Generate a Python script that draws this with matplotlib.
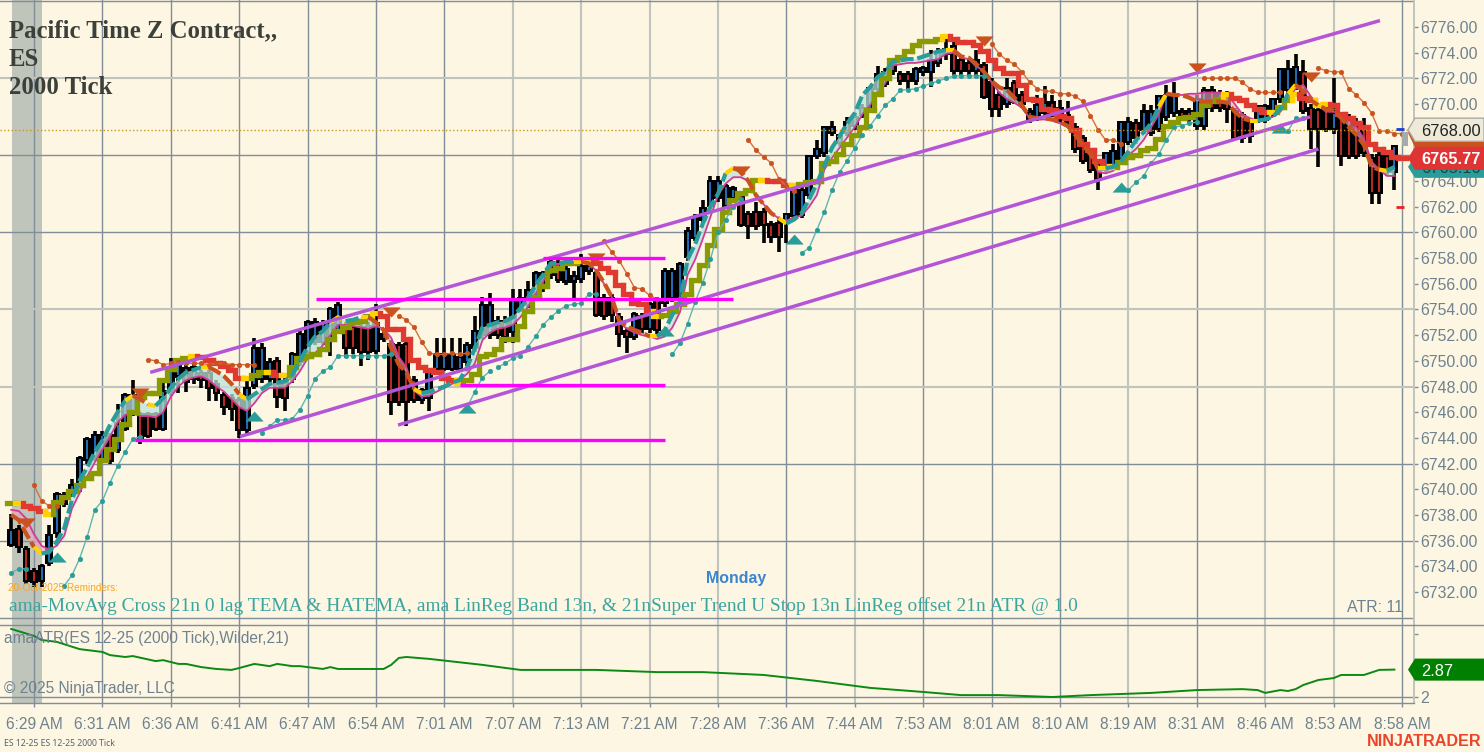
import numpy as np
import matplotlib as mpl
mpl.use('Agg')
import matplotlib.pyplot as plt
from matplotlib.patches import Polygon
from matplotlib.transforms import blended_transform_factory

# one row per candle: open, high, low, close
candles = [
[6735.6,6738.1,6735.5,6736.9],[6737.0,6737.2,6735.0,6735.4],[6735.4,6735.6,6732.6,6732.8],[6733.7,6733.9,6732.4,6732.7],
[6732.8,6734.2,6732.4,6734.1],[6734.2,6737.2,6734.0,6736.5],[6736.5,6739.8,6736.2,6739.7],[6739.6,6739.8,6738.6,6738.8],
[6739.6,6740.8,6739.4,6740.4],[6740.3,6742.6,6739.8,6742.5],[6742.2,6744.1,6742.0,6744.0],[6742.4,6744.5,6742.2,6744.3],
[6742.3,6744.5,6742.2,6744.3],[6744.3,6744.4,6742.0,6742.1],[6743.0,6746.6,6742.8,6745.2],[6744.6,6747.5,6744.5,6747.4],[6745.9,6748.5,6745.7,6747.4],
[6745.9,6746.0,6743.5,6743.9],[6745.9,6746.0,6744.0,6744.1],[6745.9,6746.0,6744.5,6744.6],[6744.6,6748.5,6744.5,6747.7],[6747.5,6750.2,6747.3,6749.5],
[6748.7,6750.0,6747.5,6749.8],[6749.5,6749.7,6747.6,6748.3],[6748.5,6749.8,6748.2,6749.6],[6749.1,6749.3,6747.9,6748.4],
[6749.1,6749.3,6746.9,6747.8],[6748.3,6748.5,6746.9,6747.4],[6747.4,6747.6,6745.8,6746.3],[6747.2,6747.4,6745.3,6746.2],[6747.0,6747.2,6744.0,6744.5],
[6744.5,6748.8,6744.2,6748.0],[6748.0,6751.8,6747.8,6751.1],[6748.5,6751.4,6748.3,6751.1],[6748.5,6750.2,6748.3,6750.0],
[6750.1,6750.3,6746.3,6747.1],[6748.5,6748.7,6746.1,6747.0],[6748.5,6750.7,6748.3,6750.6],[6749.8,6752.3,6749.6,6752.2],[6750.6,6753.2,6750.4,6753.1],
[6751.4,6753.3,6751.2,6753.1],[6751.4,6753.2,6751.2,6753.0],[6751.7,6754.2,6750.4,6754.1],[6752.3,6754.6,6752.1,6754.4],
[6752.9,6753.0,6750.2,6750.9],[6752.7,6752.9,6750.5,6750.9],[6752.7,6752.9,6749.6,6750.6],[6752.8,6753.0,6750.1,6750.6],[6750.7,6754.4,6750.5,6753.0],
[6752.2,6752.3,6751.5,6751.6],[6751.4,6751.6,6745.8,6746.7],[6751.3,6751.5,6746.5,6746.7],[6751.4,6751.6,6744.9,6746.7],
[6748.6,6748.8,6746.7,6746.9],[6746.9,6747.9,6746.6,6747.8],[6747.0,6749.4,6746.1,6749.2],[6749.3,6751.8,6749.2,6750.6],[6749.3,6751.8,6749.2,6750.6],
[6749.3,6751.8,6749.2,6750.5],[6749.3,6751.8,6749.2,6750.4],[6749.8,6751.5,6749.6,6751.3],[6750.9,6753.5,6750.7,6752.4],
[6751.9,6755.0,6751.7,6754.4],[6751.9,6755.3,6751.7,6754.4],[6753.2,6753.5,6751.7,6751.9],[6753.2,6753.5,6751.4,6751.8],[6752.2,6755.6,6751.4,6754.8],
[6754.0,6755.6,6753.8,6755.0],[6754.3,6756.2,6754.1,6755.6],[6755.0,6757.0,6754.8,6756.9],[6755.6,6757.0,6755.4,6756.9],
[6756.6,6758.0,6756.4,6757.8],[6757.6,6757.9,6756.1,6756.2],[6756.1,6757.9,6755.9,6757.2],[6756.1,6757.0,6754.9,6756.7],[6756.3,6758.3,6756.1,6757.5],
[6756.9,6757.7,6756.7,6757.5],[6756.9,6757.0,6753.4,6753.5],[6755.0,6755.2,6753.2,6753.4],[6755.0,6755.2,6753.0,6753.5],
[6753.5,6753.7,6751.1,6752.0],[6752.4,6752.6,6750.6,6751.8],[6751.8,6753.8,6751.6,6753.7],[6753.6,6753.7,6752.1,6752.4],[6752.4,6754.6,6752.2,6754.5],
[6754.8,6755.0,6751.7,6752.3],[6754.4,6757.2,6754.2,6757.1],[6754.8,6757.2,6754.6,6757.1],[6754.9,6757.7,6754.7,6757.6],
[6758.0,6760.4,6757.8,6760.2],[6759.5,6761.4,6759.3,6761.3],[6760.9,6762.5,6760.7,6762.0],[6762.0,6764.4,6761.8,6764.1],[6762.6,6764.4,6762.4,6764.1],
[6762.0,6763.8,6761.8,6763.7],[6762.6,6763.6,6762.4,6763.5],[6763.0,6763.2,6760.4,6760.5],[6761.5,6761.7,6759.5,6760.4],
[6761.7,6762.4,6760.2,6760.4],[6761.7,6761.9,6759.2,6760.5],[6760.7,6760.9,6759.2,6759.6],[6760.8,6761.0,6758.5,6759.6],[6760.7,6761.5,6759.2,6761.5],
[6761.2,6763.6,6761.0,6763.5],[6761.3,6763.5,6761.1,6763.4],[6762.8,6766.0,6762.6,6766.0],[6765.9,6767.2,6765.7,6766.6],
[6766.1,6768.3,6765.9,6768.3],[6767.7,6768.7,6767.5,6768.3],[6766.9,6767.7,6766.7,6767.7],[6767.7,6769.0,6767.5,6768.7],[6768.2,6769.2,6768.0,6769.1],
[6769.1,6770.0,6768.9,6769.8],[6769.5,6771.3,6769.3,6771.3],[6771.1,6773.0,6770.9,6772.4],[6771.5,6772.8,6771.3,6772.6],
[6772.5,6773.6,6772.3,6773.5],[6772.4,6772.6,6771.5,6771.7],[6772.4,6772.6,6771.2,6771.7],[6771.7,6772.9,6771.5,6772.8],[6772.4,6773.0,6772.2,6772.9],
[6772.4,6774.2,6771.3,6773.5],[6773.1,6774.4,6772.9,6774.1],[6773.8,6775.1,6773.4,6774.4],[6774.6,6774.8,6772.3,6772.5],
[6773.5,6773.7,6772.3,6772.5],[6773.3,6773.5,6772.3,6772.5],[6772.5,6774.2,6772.3,6773.5],[6773.1,6773.3,6770.4,6770.5],[6771.8,6772.0,6769.0,6769.5],
[6770.8,6771.0,6769.0,6769.5],[6769.9,6772.0,6769.7,6771.3],[6771.7,6771.9,6770.0,6770.1],[6770.8,6771.0,6769.7,6769.9],
[6769.5,6769.7,6768.5,6768.7],[6768.9,6770.7,6768.7,6770.0],[6769.2,6771.4,6769.0,6770.2],[6770.2,6770.7,6769.0,6769.2],[6769.8,6770.3,6768.5,6768.7],
[6769.2,6770.2,6768.3,6768.5],[6768.3,6768.5,6766.2,6766.4],[6767.4,6767.6,6765.3,6765.5],[6766.3,6766.5,6764.6,6764.8],
[6765.4,6765.6,6763.3,6764.1],[6764.8,6766.3,6764.6,6766.3],[6765.1,6766.9,6764.9,6766.4],[6765.6,6768.7,6765.4,6768.7],[6767.0,6769.0,6766.8,6768.7],
[6768.6,6768.8,6766.9,6767.3],[6767.9,6770.0,6767.7,6769.5],[6767.7,6769.9,6767.5,6769.5],[6768.0,6770.7,6767.8,6770.7],
[6768.9,6771.5,6768.7,6770.8],[6769.2,6771.7,6769.0,6770.7],[6769.5,6769.7,6768.7,6768.9],[6769.5,6769.7,6768.5,6768.9],[6768.2,6770.7,6768.0,6770.5],
[6768.2,6771.3,6768.0,6771.2],[6771.2,6771.4,6769.4,6769.6],[6770.9,6771.1,6769.4,6769.6],[6770.8,6771.0,6768.5,6769.5],
[6769.5,6769.7,6767.2,6767.3],[6769.2,6769.4,6767.0,6767.3],[6768.7,6768.9,6767.0,6767.4],[6768.7,6769.9,6768.5,6769.9],[6768.7,6770.0,6768.5,6769.9],
[6769.2,6770.5,6769.0,6770.5],[6770.3,6772.8,6770.1,6772.8],[6771.0,6773.4,6770.8,6772.8],[6771.3,6773.9,6771.1,6773.0],
[6772.6,6773.4,6769.2,6769.4],[6769.8,6770.0,6766.5,6768.0],[6769.6,6769.8,6765.1,6768.0],[6769.8,6770.0,6767.8,6768.0],[6768.0,6772.0,6767.7,6769.4],
[6769.1,6769.3,6765.2,6765.9],[6769.0,6769.2,6765.7,6765.9],[6768.7,6768.9,6765.7,6765.9],[6768.1,6768.9,6765.9,6766.1],
[6765.9,6766.1,6762.2,6763.0],[6766.1,6766.3,6762.2,6763.0],[6766.0,6766.2,6764.4,6764.6],[6764.6,6766.8,6763.3,6766.8],
]

stair = [
6738.9,6738.9,6738.7,6738.5,6738.3,6738.1,6739.0,6739.4,
6739.9,6740.3,6740.9,6741.3,6742.3,6743.1,6743.9,6745.1,6746.0,
6747.2,6747.5,6747.5,6748.5,6749.4,6750.1,6750.2,6750.4,6750.3,
6750.1,6749.8,6749.6,6749.3,6748.7,6748.7,6748.9,6749.1,6749.1,
6748.9,6748.9,6749.5,6750.2,6750.4,6750.5,6750.9,6751.7,6752.3,
6752.6,6753.0,6753.1,6753.5,6753.7,6753.5,6752.5,6752.5,6751.7,
6750.1,6749.5,6749.3,6749.1,6748.7,6748.5,6748.3,6748.5,6749.0,
6750.4,6750.5,6750.9,6751.7,6751.7,6752.7,6753.9,6755.0,6755.8,
6757.1,6757.2,6757.6,6757.6,6757.8,6757.8,6757.6,6757.2,6756.9,
6755.9,6755.2,6754.5,6754.4,6753.9,6753.5,6753.6,6753.9,6754.4,
6755.2,6756.3,6757.5,6759.0,6760.3,6761.6,6762.5,6763.1,6763.3,
6764.1,6764.1,6764.0,6764.0,6763.7,6763.7,6763.8,6763.9,6764.0,
6765.4,6765.6,6766.1,6766.9,6767.6,6768.2,6769.5,6770.8,6772.0,
6773.4,6773.7,6774.1,6774.6,6774.9,6774.9,6775.1,6775.3,6775.1,
6774.8,6774.8,6774.6,6774.1,6773.4,6772.8,6772.4,6772.4,6771.5,
6770.4,6770.3,6769.6,6769.5,6769.1,6768.9,6768.0,6766.9,6766.4,
6765.6,6765.2,6765.1,6765.5,6765.9,6766.0,6766.4,6766.6,6767.3,
6768.3,6768.6,6768.9,6769.0,6769.2,6769.9,6770.2,6770.4,6770.8,
6770.5,6770.3,6769.9,6769.6,6769.4,6769.4,6769.8,6770.3,6770.8,
6770.5,6770.3,6769.9,6770.0,6769.9,6769.2,6768.9,6768.5,6768.2,
6766.9,6766.5,6766.3,6765.9,
]

fast = [
6738.0,6737.6,6736.5,6735.5,6735.0,6735.1,6735.9,6737.0,
6739.2,6740.7,6741.7,6742.9,6743.8,6745.0,6746.0,6746.9,6747.3,
6747.0,6746.6,6746.5,6747.1,6747.9,6748.6,6749.1,6749.3,6749.5,
6749.5,6749.2,6748.8,6748.2,6747.4,6747.0,6747.4,6747.8,6748.2,
6748.3,6748.4,6748.9,6750.0,6751.1,6751.9,6752.3,6753.0,6753.4,
6753.1,6753.2,6753.4,6753.4,6753.0,6752.4,6751.0,6749.7,6749.1,
6747.8,6747.5,6747.6,6747.8,6748.0,6748.3,6748.5,6749.5,6751.0,
6752.6,6752.8,6753.0,6753.1,6753.4,6754.1,6754.9,6755.9,6756.7,
6757.6,6757.6,6757.7,6757.7,6757.7,6757.6,6757.0,6756.1,6755.0,
6753.1,6752.7,6752.4,6752.2,6751.9,6751.9,6752.4,6753.6,6754.6,
6757.9,6759.1,6760.7,6762.0,6763.0,6764.6,6765.0,6764.8,6764.0,
6762.9,6762.2,6761.5,6761.1,6760.7,6761.0,6761.5,6762.6,6763.8,
6765.2,6766.6,6767.5,6768.5,6769.3,6770.7,6771.3,6772.1,6772.5,
6773.3,6773.4,6773.5,6773.5,6773.7,6773.9,6774.1,6774.2,6774.2,
6773.7,6773.6,6773.1,6772.5,6771.8,6771.3,6771.1,6770.5,6769.9,
6769.0,6768.9,6768.9,6768.8,6768.6,6768.3,6767.6,6766.8,6766.1,
6765.0,6765.0,6765.1,6765.5,6766.3,6767.2,6767.8,6768.5,6769.8,
6770.8,6770.7,6770.7,6770.5,6770.2,6770.2,6770.2,6770.2,6770.1,
6769.4,6768.9,6768.7,6768.7,6768.8,6769.0,6769.6,6770.8,6771.5,
6771.0,6770.3,6769.9,6769.6,6769.5,6768.9,6768.2,6767.6,6766.8,
6765.1,6764.9,6764.8,6765.1,
]

slow = [
6738.4,6738.3,6737.7,6736.5,6735.6,6735.3,6735.6,6736.4,
6738.5,6739.7,6741.0,6742.1,6743.1,6744.1,6745.2,6745.8,6745.9,
6745.7,6745.7,6745.6,6746.0,6747.2,6748.0,6748.5,6748.7,6748.8,
6748.5,6748.0,6747.6,6747.0,6746.4,6746.1,6746.7,6747.5,6747.9,
6747.9,6747.9,6748.4,6749.2,6750.2,6750.6,6751.2,6752.0,6752.8,
6752.8,6752.7,6752.6,6752.5,6752.7,6752.5,6751.8,6750.3,6749.5,
6747.7,6747.2,6747.3,6747.6,6747.9,6748.2,6748.5,6749.0,6749.8,
6751.6,6752.2,6752.5,6752.6,6752.8,6753.4,6754.2,6755.2,6756.2,
6757.4,6757.5,6757.6,6757.7,6757.8,6757.6,6757.0,6756.0,6755.0,
6753.0,6752.5,6752.2,6752.0,6751.9,6751.7,6751.9,6752.6,6753.8,
6756.7,6757.9,6759.5,6761.2,6762.9,6763.8,6764.3,6764.3,6764.0,
6762.8,6762.2,6761.5,6761.1,6760.9,6761.2,6761.3,6762.0,6762.9,
6764.9,6765.8,6766.6,6767.4,6768.2,6769.2,6769.9,6770.8,6771.6,
6773.0,6773.1,6773.2,6773.2,6773.3,6773.4,6773.5,6773.9,6774.0,
6773.6,6773.5,6772.9,6772.6,6771.7,6770.9,6770.4,6770.1,6769.7,
6768.9,6768.8,6768.8,6768.7,6768.5,6768.2,6767.7,6766.8,6766.1,
6764.7,6764.6,6764.8,6765.5,6766.0,6766.5,6767.2,6768.2,6769.2,
6770.8,6770.8,6770.7,6770.8,6770.8,6770.9,6770.9,6770.9,6770.8,
6770.0,6769.2,6768.9,6768.7,6768.8,6769.0,6769.4,6770.3,6771.2,
6771.5,6770.6,6769.9,6769.4,6769.4,6769.2,6768.8,6768.2,6767.3,
6765.5,6764.9,6764.4,6764.4,
]

first_bar = -3
last_price = 6765.77
atr_now = 2.87

# stop dots, first bar of each run and its values
teal_starts = [-3, 4, 30, 57, 61, 84, 101, 110, 144, 163]
teal_runs = [
[6733.5,6733.8,6733.8],
[6732.5,6733.3,6734.6,6736.3,6738.4,6739.1,6740.5,6741.8,6742.9,6743.9,6744.1],
[6744.4,6744.9,6745.4,6745.4,6745.5,6746.2,6747.3,6748.6,6749.2,6749.5,6750.4,6750.4,6750.4,6750.4,6750.4,6750.4,6750.4,6750.5],
[6746.4,6747.6,6748.7,6749.2],
[6749.5,6749.8,6750.2,6750.4,6751.1,6751.9,6752.8,6753.4,6753.9,6754.3,6754.4,6754.5,6755.2,6755.2],
[6750.5,6751.4,6752.9,6754.6,6756.1,6757.9,6760.0,6761.0,6762.0,6762.6],
[6758.4,6758.8,6760.2,6761.6,6763.3,6764.7,6765.6,6766.6,6767.6],
[6768.3,6769.1,6769.9,6770.4,6771.1,6771.1,6771.2,6771.4,6771.6,6771.8,6772.0,6772.2,6772.2,6772.2,6772.2,6772.2],
[6763.3,6763.9,6764.4,6765.4,6766.1,6767.2,6768.2,6768.3,6768.5,6768.6],
[6768.1,6768.0,6767.9,6768.9,6768.9],
]
orange_starts = [0, 15, 48, 75, 94, 126, 154, 169]
orange_runs = [
[6740.3,6739.1,6738.7,6738.7],
[6750.1,6750.0,6749.7,6749.8,6749.9,6749.8,6749.8,6749.8,6749.7,6749.8,6749.8,6749.7,6749.7,6749.7,6749.7],
[6753.5,6753.2,6752.6,6751.5,6750.6,6750.5,6750.5,6750.6,6750.5,6750.6],
[6759.3,6758.5,6757.8,6756.8,6755.7,6755.6,6755.1,6754.8],
[6767.2,6766.4,6765.9,6765.4,6764.2,6763.6,6763.2],
[6774.7,6773.9,6773.4,6773.1,6772.5,6771.7,6771.2,6771.0,6771.0,6770.8,6770.8,6770.6,6770.2,6769.1,6768.0,6767.2,6767.2,6766.9],
[6772.0,6772.0,6772.0,6772.0,6772.0,6771.7,6771.2,6770.9,6770.9,6770.9,6770.9],
[6772.8,6772.6,6772.5,6772.5,6771.2,6770.7,6770.1,6769.3,6767.9,6767.9,6767.7,6767.7],
]

up_bars = [3, 29, 57, 83, 100, 143, 164]
up_prices = [6734.7, 6745.7, 6746.3, 6752.3, 6759.5, 6763.5, 6768.1]
down_bars = [-1, 14, 47, 74, 93, 125, 153, 168]
down_prices = [6737.4, 6747.5, 6753.8, 6758.0, 6764.8, 6774.9, 6772.8, 6772.1]

# drawing tools: channel lines and horizontal levels
channel_bars = [(15.3, 177.1), (27.1, 167.9), (47.9, 169.0)]
channel_prices = [(6749.1, 6776.5), (6744.1, 6769.0), (6745.0, 6766.5)]
level_prices = [6743.8, 6748.1, 6754.8, 6758.0]
level_bars = [(13.3, 83.0), (56.0, 83.0), (37.1, 92.0), (67.0, 83.0)]

atr_bars = [-3,0,1,3,6,9,10,12,13,16,17,19,20,22,24,26,27,29,31,32,34,35,38,39,40,43,46,47,48,49,
            52,59,64,74,82,88,96,103,110,117,122,127,134,139,147,153,159,161,162,164,165,166,167,
            169,171,172,175,177,179]
atr_vals = [4.16,3.94,3.81,3.75,3.52,3.43,3.33,3.27,3.30,3.14,3.17,3.05,3.05,2.95,2.89,2.86,2.92,3.05,2.98,3.05,
            2.98,2.98,2.89,2.95,2.89,2.89,2.89,3.02,3.24,3.27,3.21,3.02,2.86,2.86,2.79,2.79,2.70,2.51,2.29,2.16,
            2.06,2.06,2.00,2.06,2.13,2.22,2.25,2.22,2.13,2.22,2.19,2.25,2.38,2.54,2.60,2.70,2.70,2.86,2.87]

time_labels = ['6:29 AM','6:31 AM','6:36 AM','6:41 AM','6:47 AM','6:54 AM','7:01 AM','7:07 AM','7:13 AM',
               '7:21 AM','7:28 AM','7:36 AM','7:44 AM','7:53 AM','8:01 AM','8:10 AM','8:19 AM','8:31 AM',
               '8:46 AM','8:53 AM','8:58 AM']
price_ticks = list(range(6732, 6778, 2))
covered_ticks = [6766, 6768]
grid_prices = [6778, 6772, 6766, 6760, 6754, 6748, 6742, 6736, 6730]
grid_price_light = [0, 1, 0, 0, 1, 1, 0, 0, 0]
grid_time_light = [0,0,0,0,0,0,0,1,1,1,1,0,1,0,0,0,1,0,1,1,0]

BG = '#fdf6e3'
GRID_DARK = '#7f8e98'
GRID_LIGHT = '#bfc4bc'
AXIS_TEXT = '#6e8290'
TEAL = '#2a9d9a'
ORANGE = '#c9521e'
YELLOW = '#ffd200'
OLIVE = '#8a9a00'
RED = '#e0392f'

plt.rcParams['font.family'] = ['Liberation Sans', 'DejaVu Sans']

W, H = 1484, 752
fig = plt.figure(figsize=(W / 100, H / 100), dpi=100, facecolor=BG)
ax = fig.add_axes([0, (H - 625) / H, 1414 / W, 625 / H], facecolor=BG)
ax2 = fig.add_axes([0, (H - 703) / H, 1414 / W, 78 / H], facecolor=BG)

bars = np.arange(first_bar, first_bar + len(candles))
ohlc = np.array(candles)
o, hi, lo, c = ohlc.T
time_ticks = np.arange(0, 9 * len(time_labels), 9)

xlim = (-34 / 7.6, 1380 / 7.6)
for a in (ax, ax2):
    a.set_xlim(xlim)
    a.axvspan(-2.89, 1.0, color='#bfc5ba', lw=0, zorder=0.5)
    for t, light in zip(time_ticks, grid_time_light):
        if light:
            a.axvline(t, color=GRID_LIGHT, lw=1.5, zorder=1)
        else:
            a.axvline(t, color=GRID_DARK, lw=1.0, zorder=1)
    for s in a.spines.values():
        s.set_visible(False)
    a.spines['right'].set_visible(True)
    a.spines['right'].set_color(GRID_LIGHT)
    a.spines['right'].set_linewidth(1.4)

ax.set_ylim(6776 - 598 / 12.84, 6776 + 27 / 12.84)
for p, light in zip(grid_prices, grid_price_light):
    if light:
        ax.axhline(p, color=GRID_LIGHT, lw=1.5, zorder=1)
    else:
        ax.axhline(p, color=GRID_DARK, lw=1.0, zorder=1)

# candles
up = c >= o
top = np.maximum(o, c)
bot = np.minimum(o, c)
ax.vlines(bars, lo, hi, color='black', lw=2.6, zorder=3)
ax.bar(bars, top - bot, bottom=bot, width=0.98, color='black', lw=0, zorder=3)
big = (top - bot) > 0.4
ax.vlines(bars[big & up], bot[big & up] + 0.16, top[big & up] - 0.16, color='#2b80d6', lw=1.2, zorder=3.1)
ax.vlines(bars[big & ~up], bot[big & ~up] + 0.16, top[big & ~up] - 0.16, color='#d8342c', lw=1.2, zorder=3.1)

# band between fast line and slow line
fast_a = np.array(fast)
slow_a = np.array(slow)
ax.fill_between(bars, fast_a, slow_a, where=fast_a >= slow_a, interpolate=True, color='#bfe3da', alpha=0.75, lw=0, zorder=3.5)
ax.fill_between(bars, fast_a, slow_a, where=fast_a < slow_a, interpolate=True, color='#e9a6c4', alpha=0.65, lw=0, zorder=3.5)
ax.plot(bars, slow, color='#d23a98', lw=1.3, zorder=4)

# stepped line, yellow on the last bar before it turns
stair_x = list(bars) + [bars[-1] + 1]
stair_y = stair + [last_price]
dirs = []
d = 1
for k in range(len(stair_y)):
    if k > 0 and stair_y[k] > stair_y[k - 1]:
        d = 1
    elif k > 0 and stair_y[k] < stair_y[k - 1]:
        d = -1
    dirs.append(d)
prev = None
for k in range(len(stair_y)):
    col = OLIVE if dirs[k] > 0 else RED
    if k + 1 < len(dirs) and dirs[k + 1] != dirs[k]:
        col = YELLOW
    xs = [stair_x[k] - 0.5, stair_x[k] + 0.5]
    ys = [stair_y[k], stair_y[k]]
    if prev is not None:
        xs = [xs[0]] + xs
        ys = [prev] + ys
    ax.plot(xs, ys, color=col, lw=3.8, solid_joinstyle='miter', solid_capstyle='projecting', zorder=5)
    prev = stair_y[k]

# dashed fast line, split in runs of one colour
signs = np.sign(np.diff(fast_a))
for k in range(1, len(signs)):
    if signs[k] == 0:
        signs[k] = signs[k - 1]
seg_cols = []
for k, s in enumerate(signs):
    col = TEAL if s >= 0 else ORANGE
    if k + 1 < len(signs) and signs[k + 1] != s:
        col = YELLOW
    seg_cols.append(col)
start = 0
for k in range(1, len(seg_cols) + 1):
    if k == len(seg_cols) or seg_cols[k] != seg_cols[start]:
        ax.plot(bars[start:k + 1], fast_a[start:k + 1], color=seg_cols[start], lw=3.0,
                linestyle=(0, (3.2, 0.9)), zorder=5.2)
        start = k

# stop dots
for s, run in zip(teal_starts, teal_runs):
    x = np.arange(s, s + len(run))
    ax.plot(x, run, color='#5fb8b0', lw=1.0, marker='o', ms=3.3, mfc=TEAL, mec=TEAL, mew=0.4, zorder=6)
for s, run in zip(orange_starts, orange_runs):
    x = np.arange(s, s + len(run))
    ax.plot(x, run, color='#d8703c', lw=1.0, marker='o', ms=3.3, mfc=ORANGE, mec=ORANGE, mew=0.4, zorder=6)

# trend triangles, wider than tall
tri_up = [(-1, -0.55), (1, -0.55), (0, 0.55)]
tri_down = [(-1, 0.55), (1, 0.55), (0, -0.55)]
ax.plot(up_bars, up_prices, ls='', marker=tri_up, ms=12.5, mfc=TEAL, mec=TEAL, mew=0.3, zorder=6.5)
ax.plot(down_bars, down_prices, ls='', marker=tri_down, ms=12.5, mfc=ORANGE, mec=ORANGE, mew=0.3, zorder=6.5)

# channels and levels
for bx, py in zip(channel_bars, channel_prices):
    ax.plot(bx, py, color='#b455d8', lw=2.5, solid_capstyle='butt', zorder=7)
for p, bx in zip(level_prices, level_bars):
    ax.plot(bx, [p, p], color='#ff00ff', lw=2.4, solid_capstyle='butt', zorder=7.5)

ax.axhline(6768, color='#c9961a', lw=1.0, ls=':', zorder=8)

# marks on the last bar
ax.plot([bars[-1] + 0.2, bars[-1] + 1.2], [6768.05, 6768.05], color='#1a3fd0', lw=2.0, solid_capstyle='butt', zorder=8)
ax.plot([bars[-1] + 0.2, bars[-1] + 1.2], [6762.0, 6762.0], color='#e8202a', lw=2.0, solid_capstyle='butt', zorder=8)
ax.bar(bars[-1] + 1.4, 1.1, bottom=6766.7, width=0.9, color='#a3abab', lw=0, zorder=8)

# price axis, the two covered ticks keep no label
ax.yaxis.tick_right()
ax.set_yticks(price_ticks)
ax.set_yticklabels(['' if p in covered_ticks else '%.2f' % p for p in price_ticks])
ax.tick_params(axis='y', length=3, width=1, color=GRID_DARK, labelcolor=AXIS_TEXT, labelsize=11.4, pad=1.5)
ax.tick_params(axis='x', bottom=False, labelbottom=False)

# ATR panel
ax2.set_ylim(2 - 6 / 31.5, 2 + 72 / 31.5)
ax2.axhline(2, color=GRID_DARK, lw=1.0, zorder=1)
ax2.plot(atr_bars, atr_vals, color='#0a8a12', lw=1.4, zorder=3)
ax2.yaxis.tick_right()
ax2.set_yticks([2, 4])
ax2.set_yticklabels(['2', ''])
ax2.tick_params(axis='y', length=3, width=1, color=GRID_DARK, labelcolor=AXIS_TEXT, labelsize=11.4, pad=1.5)
ax2.set_xticks(time_ticks)
ax2.set_xticklabels(time_labels)
ax2.tick_params(axis='x', length=3, width=1, color=GRID_DARK, labelcolor=AXIS_TEXT, labelsize=11.2, pad=7)
ax2.spines['bottom'].set_visible(True)
ax2.spines['bottom'].set_color(GRID_DARK)
ax2.spines['bottom'].set_linewidth(1.0)

fig.add_artist(plt.Line2D([0, 1], [1 - 625 / H, 1 - 625 / H], color=GRID_DARK, lw=1.0, transform=fig.transFigure))


def px(x, y):
    return x / W, 1 - y / H


def tag(axis, price, half, colour, text, text_col, weight='normal', edge='none', z=10):
    # price box on the right edge, tip points to the axis
    tr = blended_transform_factory(fig.transFigure, axis.transData)
    l = 1408 / W
    b = 1415 / W
    pts = [(l, price), (b, price + half), (1.0, price + half), (1.0, price - half), (b, price - half)]
    fig.add_artist(Polygon(pts, closed=True, transform=tr, facecolor=colour, edgecolor=edge, lw=1.0, zorder=z))
    fig.add_artist(plt.Text(1421 / W, price, text, transform=tr, color=text_col, fontsize=11.8, weight=weight,
                            ha='left', va='center_baseline', zorder=z + 0.1))


tag(ax, 6765.1, 0.85, TEAL, '6765.16', '#0f4a48', z=10)
tag(ax, 6767.75, 1.12, ORANGE, '', BG, z=10.2)
tag(ax, 6768.0, 0.9, '#efe9d8', '6768.00', '#222222', edge='#a9aea6', z=10.4)
tag(ax, last_price, 0.9, '#de3434', '%.2f' % last_price, 'white', weight='bold', z=10.6)
tag(ax2, atr_now, 0.35, '#008000', '%.2f' % atr_now, 'white', z=10)

# texts
serif = ['Liberation Serif', 'DejaVu Serif']
title_col = '#3c403a'
for line, y in zip(['Pacific Time Z Contract,,', 'ES', '2000 Tick'], [31, 59, 87]):
    x0, y0 = px(9, y)
    fig.text(x0, y0, line, family=serif, weight='bold', fontsize=17.8, color=title_col, va='center', zorder=12)
x0, y0 = px(9, 606)
fig.text(x0, y0, 'ama-MovAvg Cross 21n 0 lag TEMA & HATEMA, ama LinReg Band 13n, & 21nSuper Trend U Stop 13n LinReg offset 21n ATR @ 1.0',
         family=serif, fontsize=13.95, color='#3aa6a0', va='center', zorder=12)
x0, y0 = px(8, 588)
fig.text(x0, y0, '20-Oct-2025 Reminders:', fontsize=7.2, color='#f5a623', va='center', zorder=12)
x0, y0 = px(736, 579)
fig.text(x0, y0, 'Monday', fontsize=11.4, weight='bold', color='#3a85d0', ha='center', va='center', zorder=12)
x0, y0 = px(1403, 608)
fig.text(x0, y0, 'ATR: 11', fontsize=11.4, color=AXIS_TEXT, ha='right', va='center', zorder=12)
x0, y0 = px(4, 638)
fig.text(x0, y0, 'amaATR(ES 12-25 (2000 Tick),Wilder,21)', fontsize=11.2, color=AXIS_TEXT, va='center', zorder=12)
x0, y0 = px(4, 688)
fig.text(x0, y0, '\u00a9 2025 NinjaTrader, LLC', fontsize=11.2, color=AXIS_TEXT, va='center', zorder=12)
x0, y0 = px(4, 743)
fig.text(x0, y0, 'ES 12-25 ES 12-25 2000 Tick', family=['Noto Sans', 'DejaVu Sans'], fontsize=6.2, color='#55636c', va='center', zorder=12)
x0, y0 = px(1482, 742)
fig.text(x0, y0, 'NINJATRADER', fontsize=11.6, weight='bold', color='#e8452a', ha='right', va='center', zorder=12)

fig.savefig('out.png', dpi=100, facecolor=BG)
